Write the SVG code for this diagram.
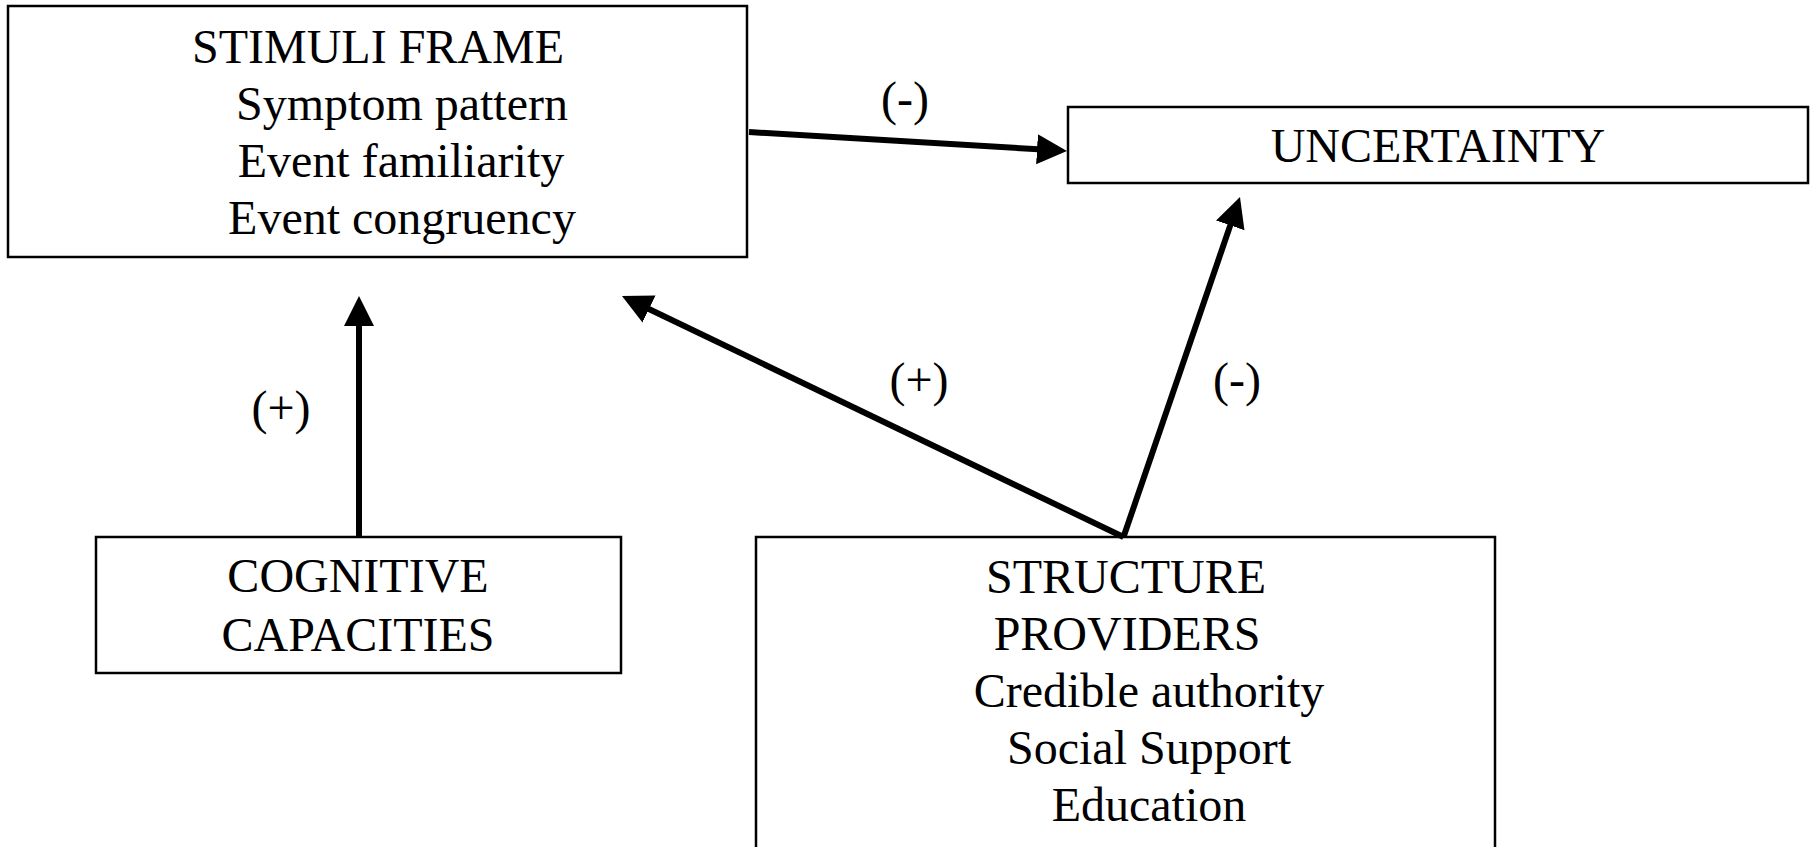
<svg xmlns="http://www.w3.org/2000/svg" width="1816" height="847" viewBox="0 0 1816 847">
<style>
.box{fill:#fff;stroke:#000;stroke-width:2.5}
.t{font-family:"Liberation Serif","Times New Roman",serif;font-size:48px;fill:#000;text-anchor:middle}
.edge{stroke:#000;stroke-width:6;fill:none;marker-end:url(#ah)}
</style>
<defs>
<marker id="ah" markerUnits="userSpaceOnUse" markerWidth="32" markerHeight="32" refX="10" refY="15" orient="auto">
<path d="M0,0 L30,15 L0,30 z" fill="#000"/>
</marker>
</defs>
<rect width="1816" height="847" fill="#fff"/>
<g id="stimuli">
<rect class="box" x="8" y="6" width="739" height="251"/>
<text class="t" x="378" y="63">STIMULI FRAME</text>
<text class="t" x="402" y="120">Symptom pattern</text>
<text class="t" x="401" y="177">Event familiarity</text>
<text class="t" x="402" y="234">Event congruency</text>
</g>
<g id="uncertainty">
<rect class="box" x="1068" y="107" width="740" height="76"/>
<text class="t" x="1438" y="162">UNCERTAINTY</text>
</g>
<g id="cognitive">
<rect class="box" x="96" y="537" width="525" height="136"/>
<text class="t" x="358" y="592">COGNITIVE</text>
<text class="t" x="358" y="651">CAPACITIES</text>
</g>
<g id="structure">
<rect class="box" x="756" y="537" width="739" height="320"/>
<text class="t" x="1126" y="593">STRUCTURE</text>
<text class="t" x="1127" y="650">PROVIDERS</text>
<text class="t" x="1149" y="707">Credible authority</text>
<text class="t" x="1149" y="764">Social Support</text>
<text class="t" x="1149" y="821">Education</text>
</g>
<g id="connectors">
<line class="edge" x1="749" y1="132" x2="1047" y2="149.8"/>
<line class="edge" x1="359" y1="537" x2="359" y2="316"/>
<line class="edge" x1="1123.5" y1="537" x2="640" y2="304.7"/>
<line class="edge" x1="1123.5" y1="537" x2="1233.5" y2="215.9"/>
<text class="t" x="905" y="115">(-)</text>
<text class="t" x="281" y="424">(+)</text>
<text class="t" x="919" y="396">(+)</text>
<text class="t" x="1237" y="396">(-)</text>
</g>
</svg>
